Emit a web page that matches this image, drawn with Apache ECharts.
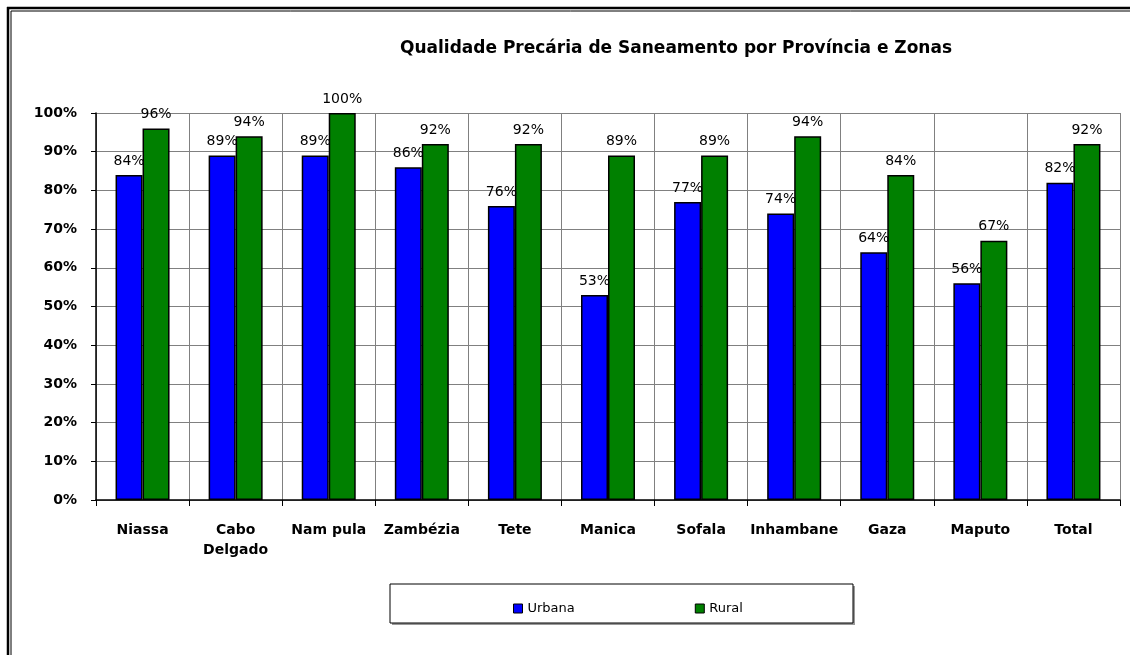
<!DOCTYPE html>
<html>
<head>
<meta charset="utf-8">
<script src="https://cdn.jsdelivr.net/npm/echarts@6/dist/echarts.min.js"></script>
<style>
  html, body { margin: 0; padding: 0; background: #fff; }
  #chart { width: 1130px; height: 655px; }
</style>
</head>
<body>
<div id="chart"></div>
<script>
// provinces and the two zones
var provinces = ['Niassa', 'Cabo\nDelgado', 'Nam pula', 'Zambézia', 'Tete', 'Manica', 'Sofala', 'Inhambane', 'Gaza', 'Maputo', 'Total'];
var urbana = [84, 89, 89, 86, 76, 53, 77, 74, 64, 56, 82];
var rural = [96, 94, 100, 92, 92, 89, 89, 94, 84, 67, 92];
var seriesNames = ['Urbana', 'Rural'];

var font = 'DejaVu Sans';

var chart = echarts.init(document.getElementById('chart'));

function barSeries(name, data, color) {
  return {
    name: name,
    type: 'bar',
    data: data,
    barWidth: 27,
    barGap: '0%',
    itemStyle: { color: color, borderColor: '#000', borderWidth: 1.5 },
    label: {
      show: true,
      position: 'top',
      distance: 7,
      formatter: '{c}%',
      color: '#000',
      fontFamily: font,
      fontSize: 14
    }
  };
}

var option = {
  backgroundColor: '#fff',
  animation: false,
  title: {
    text: 'Qualidade Precária de Saneamento por Província e Zonas',
    left: 671,
    textAlign: 'center',
    top: 35,
    textStyle: { fontFamily: font, fontWeight: 'bold', fontSize: 17, color: '#000' }
  },
  legend: {
    data: seriesNames,
    left: 508,
    top: 597,
    icon: 'rect',
    itemWidth: 9,
    itemHeight: 9,
    itemGap: 120,
    itemStyle: { borderColor: '#000', borderWidth: 1 },
    textStyle: { fontFamily: font, fontSize: 13, color: '#000' }
  },
  grid: { left: 96, right: 10, top: 113, bottom: 155 },
  xAxis: {
    type: 'category',
    data: provinces,
    axisLine: { lineStyle: { color: '#000', width: 1.5 } },
    axisTick: { show: true, length: 6, lineStyle: { color: '#000' } },
    splitLine: { show: true, lineStyle: { color: '#808080', width: 1 } },
    axisLabel: {
      interval: 0,
      margin: 20,
      lineHeight: 20,
      color: '#000',
      fontFamily: font,
      fontWeight: 'bold',
      fontSize: 14
    }
  },
  yAxis: {
    type: 'value',
    min: 0,
    max: 100,
    interval: 10,
    axisLine: { show: true, lineStyle: { color: '#000', width: 1.5 } },
    axisTick: { show: true, length: 5, lineStyle: { color: '#000' } },
    splitLine: { show: true, lineStyle: { color: '#808080', width: 1 } },
    axisLabel: {
      formatter: '{value}%',
      margin: 19,
      color: '#000',
      fontFamily: font,
      fontWeight: 'bold',
      fontSize: 14
    }
  },
  graphic: [
    // outer double frame (top and left)
    { type: 'line', shape: { x1: 7, y1: 8, x2: 1130, y2: 8 }, style: { stroke: '#000', lineWidth: 2.5 } },
    { type: 'line', shape: { x1: 11, y1: 11, x2: 1130, y2: 11 }, style: { stroke: '#000', lineWidth: 1 } },
    { type: 'line', shape: { x1: 8, y1: 7, x2: 8, y2: 655 }, style: { stroke: '#000', lineWidth: 2.5 } },
    { type: 'line', shape: { x1: 11, y1: 11, x2: 11, y2: 655 }, style: { stroke: '#000', lineWidth: 1 } },
    // legend box with shadow
    { type: 'rect', shape: { x: 392, y: 586, width: 463, height: 39 }, style: { fill: '#999' }, z: 0 },
    { type: 'rect', shape: { x: 390, y: 584, width: 463, height: 39 }, style: { fill: '#fff', stroke: '#000', lineWidth: 1 }, z: 1 }
  ],
  series: [
    barSeries(seriesNames[0], urbana, '#0000ff'),
    barSeries(seriesNames[1], rural, '#008000')
  ]
};

chart.setOption(option);
</script>
</body>
</html>
